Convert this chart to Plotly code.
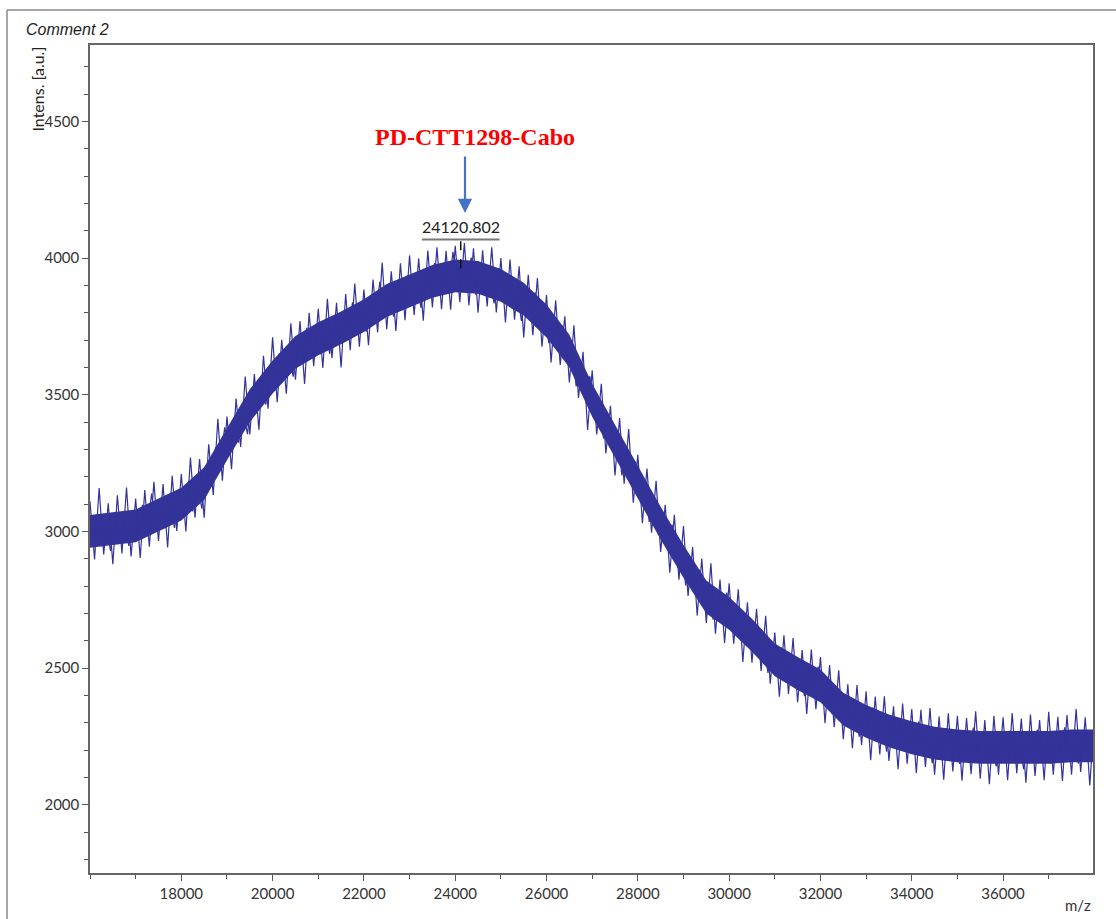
import numpy as np
import plotly.graph_objects as go

# ---------------- data ----------------
# intensities sampled every 100 m/z starting at 16000
intensity_a = [
    3110, 2897, 3159, 2916, 3103, 2880, 3132, 2919, 3161, 2908,
    3120, 2903, 3151, 2944, 3182, 2965, 3173, 2941, 3204, 3002,
    3210, 3000, 3270, 3050, 3265, 3050, 3319, 3133, 3412, 3186,
    3420, 3228, 3486, 3309, 3567, 3355, 3576, 3372, 3643, 3449,
    3710, 3473, 3701, 3504, 3762, 3555, 3770, 3540, 3800, 3605,
    3815, 3598, 3851, 3634, 3837, 3600, 3869, 3663, 3907, 3676,
    3885, 3681, 3922, 3728, 3984, 3740, 3952, 3734, 3981, 3773,
    4010, 3792, 3999, 3771, 4028, 3820, 4040, 3813, 4027, 3811,
    4045, 3839, 4055, 3827, 4036, 3800, 4029, 3823, 4040, 3801,
    4000, 3765, 3995, 3775, 3970, 3710, 3939, 3718, 3927, 3676,
    3865, 3618, 3846, 3609, 3787, 3545, 3754, 3488, 3657, 3371,
    3590, 3355, 3540, 3285, 3460, 3205, 3415, 3175, 3375, 3105,
    3280, 3030, 3230, 2995, 3185, 2925, 3097, 2849, 3061, 2823,
    3020, 2764, 2943, 2692, 2901, 2665, 2883, 2626, 2824, 2592,
    2810, 2589, 2788, 2522, 2741, 2520, 2717, 2489, 2691, 2443,
    2630, 2395, 2620, 2405, 2610, 2375, 2566, 2332, 2568, 2349,
    2540, 2298, 2511, 2284, 2492, 2240, 2441, 2207, 2438, 2219,
    2415, 2163, 2396, 2184, 2397, 2160, 2360, 2130, 2370, 2150,
    2350, 2116, 2347, 2138, 2354, 2110, 2323, 2091, 2334, 2122,
    2325, 2088, 2317, 2112, 2342, 2095, 2310, 2075, 2325, 2110,
    2320, 2090, 2335, 2115, 2315, 2080, 2330, 2105, 2310, 2090,
    2340, 2110, 2322, 2087, 2328, 2110, 2350, 2120, 2320, 2070,
    2325,
]
# intensities sampled every 100 m/z starting at 16050
intensity_b = [
    2971, 3048, 2945, 3032, 2929, 3051, 2958, 3050, 2947, 3039,
    2974, 3097, 3010, 3138, 3011, 3089, 3012, 3120, 3013, 3131,
    3083, 3178, 3073, 3183, 3083, 3235, 3179, 3308, 3247, 3381,
    3284, 3397, 3325, 3443, 3356, 3516, 3462, 3568, 3464, 3595,
    3549, 3652, 3555, 3658, 3566, 3705, 3635, 3745, 3645, 3725,
    3649, 3757, 3650, 3768, 3711, 3805, 3709, 3838, 3752, 3831,
    3731, 3837, 3778, 3914, 3785, 3874, 3786, 3903, 3835, 3937,
    3834, 3921, 3818, 3950, 3887, 3982, 3876, 3960, 3869, 4023,
    3895, 3989, 3903, 4002, 3866, 3967, 3871, 3945, 3834, 3963,
    3860, 3930, 3815, 3890, 3770, 3892, 3796, 3875, 3749, 3813,
    3689, 3777, 3690, 3753, 3616, 3672, 3531, 3615, 3499, 3568,
    3415, 3460, 3340, 3415, 3315, 3370, 3205, 3290, 3180, 3255,
    3140, 3180, 3035, 3105, 2990, 3056, 2953, 3025, 2882, 2929,
    2802, 2896, 2795, 2859, 2728, 2789, 2677, 2770, 2693, 2776,
    2642, 2706, 2600, 2689, 2593, 2666, 2553, 2600, 2482, 2579,
    2495, 2575, 2450, 2530, 2440, 2501, 2397, 2508, 2419, 2505,
    2387, 2440, 2333, 2421, 2324, 2401, 2287, 2353, 2249, 2350,
    2272, 2355, 2243, 2316, 2194, 2313, 2238, 2313, 2193, 2278,
    2203, 2304, 2200, 2271, 2152, 2249, 2172, 2280, 2188, 2261,
    2149, 2248, 2172, 2282, 2186, 2260, 2155, 2240, 2140, 2255,
    2175, 2270, 2165, 2235, 2130, 2250, 2180, 2275, 2160, 2245,
    2150, 2256, 2187, 2283, 2174, 2245, 2150, 2270, 2180, 2255,
]
mz_a = 16000 + 100 * np.arange(len(intensity_a))
mz_b = 16050 + 100 * np.arange(len(intensity_b))

# dense core of the noisy band (every 500 m/z)
band_mz = [16000 + 500 * i for i in range(45)]
band_center = [
    3000, 3010, 3020, 3060, 3100, 3175, 3320, 3460, 3565, 3655,
    3705, 3745, 3790, 3845, 3880, 3915, 3935, 3930, 3900, 3850,
    3770, 3660, 3480, 3330, 3180, 3030, 2890, 2760, 2700, 2620,
    2530, 2480, 2435, 2350, 2305, 2270, 2245, 2225, 2215, 2210,
    2210, 2210, 2210, 2215, 2215,
]
band_half = 60

peak_mz = 24120.802
peak_label = "24120.802"
compound = "PD-CTT1298-Cabo"

x_range = [16000, 37970]
y_range = [1750, 4780]
x_ticks = [18000, 20000, 22000, 24000, 26000, 28000, 30000, 32000, 34000, 36000]
y_ticks = [2000, 2500, 3000, 3500, 4000, 4500]

# ---------------- figure ----------------
W, H = 1116, 919
L, R, T, B = 90, 23, 45, 46
blue = "#333399"

upper = [c + band_half for c in band_center]
lower = [c - band_half for c in band_center]

fig = go.Figure()
fig.add_trace(go.Scatter(
    x=band_mz + band_mz[::-1], y=upper + lower[::-1],
    fill="toself", fillcolor=blue, line=dict(width=0), mode="lines",
    hoverinfo="skip", showlegend=False))
fig.add_trace(go.Scatter(
    x=mz_a, y=intensity_a, mode="lines",
    line=dict(color=blue, width=1.2), showlegend=False))
fig.add_trace(go.Scatter(
    x=mz_b, y=intensity_b, mode="lines",
    line=dict(color=blue, width=1.2), showlegend=False))

axis_common = dict(
    showgrid=False, zeroline=False, showline=True, mirror=True,
    linecolor="#666666", linewidth=1.5,
    ticks="outside", ticklen=6, tickwidth=1.2, tickcolor="#555555",
    tickfont=dict(family="Lato", size=15, color="#333333"),
)
fig.update_xaxes(range=x_range, tickvals=x_ticks, ticktext=[str(v) for v in x_ticks],
                 minor=dict(dtick=1000, tick0=0, ticks="outside", ticklen=4,
                            tickcolor="#555555", tickwidth=1.2),
                 **axis_common)
fig.update_yaxes(range=y_range, tickvals=y_ticks, ticktext=[str(v) for v in y_ticks],
                 minor=dict(dtick=100, tick0=0, ticks="outside", ticklen=4,
                            tickcolor="#555555", tickwidth=1.2),
                 **axis_common)

pw, ph = W - L - R, H - T - B


def px_to_paper(px, py):
    return (px - L) / pw, (H - B - py) / ph


shapes = []
# outer window frame (top and left edges)
x0, y0 = px_to_paper(7, 10)
x1, _ = px_to_paper(1118, 10)
_, y1 = px_to_paper(7, 921)
shapes.append(dict(type="line", xref="paper", yref="paper", x0=x0, y0=y0, x1=x1, y1=y0,
                   line=dict(color="#8a8a8a", width=1.5)))
shapes.append(dict(type="line", xref="paper", yref="paper", x0=x0, y0=y0, x1=x0, y1=y1,
                   line=dict(color="#8a8a8a", width=1.5)))
# peak label underline and dashed marker
shapes.append(dict(type="line", xref="x", yref="y", x0=peak_mz - 850, x1=peak_mz + 850,
                   y0=4068, y1=4068, line=dict(color="#777777", width=2)))
shapes.append(dict(type="line", xref="x", yref="y", x0=peak_mz, x1=peak_mz,
                   y0=4062, y1=3950, line=dict(color="#111111", width=1.5, dash="dash")))
fig.update_layout(shapes=shapes)

ann = []
cx, cy = px_to_paper(24, 30)
ann.append(dict(text="<i>Comment 2</i>", xref="paper", yref="paper", x=cx, y=cy,
                xanchor="left", yanchor="middle", showarrow=False,
                font=dict(family="Liberation Sans", size=16, color="#222222")))
ax_, ay_ = px_to_paper(37, 45)
ann.append(dict(text="Intens. [a.u.]", xref="paper", yref="paper", x=ax_, y=ay_,
                xanchor="center", yanchor="top", textangle=-90, showarrow=False,
                font=dict(family="Lato", size=16, color="#222222")))
mx, my = px_to_paper(1078, 905)
ann.append(dict(text="m/z", xref="paper", yref="paper", x=mx, y=my,
                xanchor="center", yanchor="middle", showarrow=False,
                font=dict(family="Lato", size=15, color="#333333")))
ann.append(dict(text=peak_label, xref="x", yref="y", x=peak_mz, y=4072,
                xanchor="center", yanchor="bottom", showarrow=False,
                font=dict(family="Lato", size=16, color="#222222")))
tx, ty = px_to_paper(475, 137)
ann.append(dict(text="<b>" + compound + "</b>", xref="paper", yref="paper", x=tx, y=ty,
                xanchor="center", yanchor="middle", showarrow=False,
                font=dict(family="Liberation Serif", size=24, color="#ff0000")))
# blue arrow
hx, hy = px_to_paper(465, 213)
ann.append(dict(text="", xref="paper", yref="paper", x=hx, y=hy,
                ax=0, ay=-58, axref="pixel", ayref="pixel", showarrow=True,
                arrowhead=2, arrowsize=1.3, arrowwidth=2.2, arrowcolor="#4472c4"))
fig.update_layout(annotations=ann)

fig.update_layout(
    width=W, height=H,
    margin=dict(l=L, r=R, t=T, b=B, pad=0),
    paper_bgcolor="white", plot_bgcolor="white",
    showlegend=False,
)

fig.write_html("out.html", config={"displayModeBar": False},
               post_script="document.body.style.margin='0px';document.body.style.overflow='hidden';")
